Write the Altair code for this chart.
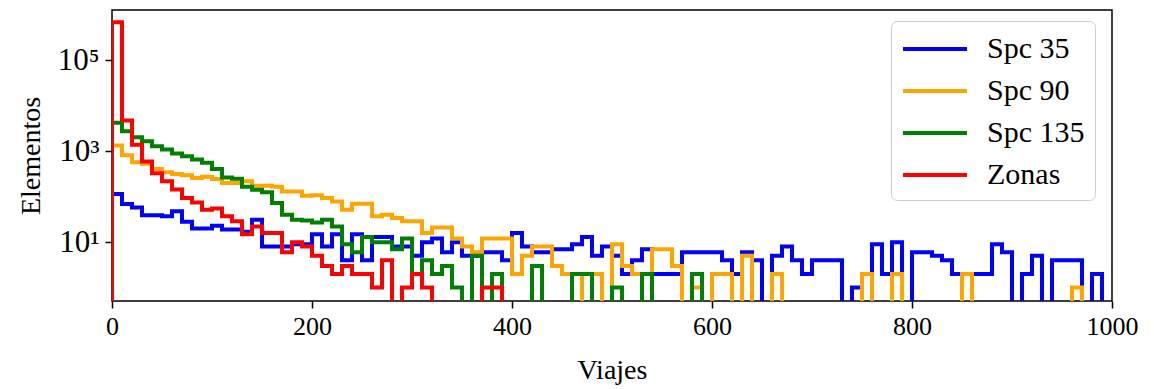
import altair as alt
import numpy as np
import pandas as pd

SERIES = ["Spc 35", "Spc 90", "Spc 135", "Zonas"]
COLORS = ["#0000ff", "#ffa500", "#008000", "#ff0000"]
BIN_START = 0.0
BIN_END = 1000.0
N_BINS = 100

spc35 = [115, 69, 58, 39, 39, 37, 48, 28, 20, 20,
         23, 19, 19, 17, 31, 8, 8, 8, 9, 9,
         15, 8, 15, 4, 15, 4, 13, 13, 8, 8,
         5, 10, 12, 6, 10, 5, 5, 6, 6, 4,
         16, 8, 6, 6, 7, 7, 9, 13, 5, 8,
         5, 2, 4, 7, 2, 2, 2, 6, 6, 6,
         6, 4, 2, 6, 4, 0, 5, 8, 4, 2,
         4, 4, 4, 0, 1, 2, 9, 2, 10, 0,
         6, 6, 5, 4, 2, 2, 2, 2, 9, 6,
         0, 2, 5, 0, 4, 4, 4, 0, 2, 0]

spc90 = [1340, 815, 575, 530, 410, 345, 317, 297, 260, 274,
         245, 200, 200, 218, 175, 175, 165, 131, 131, 105,
         108, 94, 79, 52, 70, 70, 37, 40, 34, 29,
         29, 16, 21, 21, 12, 8, 6, 12, 12, 12,
         2, 5, 8, 8, 3, 2, 2, 0, 2, 0,
         9, 3, 2, 2, 7, 7, 3, 0, 1, 0,
         2, 2, 0, 5, 0, 0, 2, 0, 0, 0,
         0, 0, 0, 0, 0, 2, 0, 0, 2, 0,
         0, 0, 0, 0, 0, 2, 0, 0, 0, 0,
         0, 0, 0, 0, 0, 0, 1, 0, 0, 0]

spc135 = [4240, 2760, 2040, 1660, 1290, 1090, 890, 780, 660, 560,
          410, 265, 250, 165, 143, 125, 73, 40, 31, 30,
          27, 31, 22, 9, 6, 13, 10, 10, 7, 12,
          2, 4, 2, 3, 1, 0, 5, 0, 2, 0,
          0, 0, 3, 0, 0, 0, 2, 2, 0, 0,
          1, 0, 0, 2, 0, 0, 0, 0, 2, 0,
          0, 0, 0, 0, 0, 0, 0, 0, 0, 0,
          0, 0, 0, 0, 0, 0, 0, 0, 0, 0,
          0, 0, 0, 0, 0, 0, 0, 0, 0, 0,
          0, 0, 0, 0, 0, 0, 0, 0, 0, 0]

zonas = [690000, 4750, 1400, 600, 330, 218, 144, 94, 75, 52,
         55, 37, 29, 15, 22, 16, 16, 6, 10, 8,
         5, 3, 2, 3, 2, 2, 1, 4, 0, 1,
         2, 1, 0, 0, 0, 0, 0, 1, 1, 0,
         0, 0, 0, 0, 0, 0, 0, 0, 0, 0,
         0, 0, 0, 0, 0, 0, 0, 0, 0, 0,
         0, 0, 0, 0, 0, 0, 0, 0, 0, 0,
         0, 0, 0, 0, 0, 0, 0, 0, 0, 0,
         0, 0, 0, 0, 0, 0, 0, 0, 0, 0,
         0, 0, 0, 0, 0, 0, 0, 0, 0, 0]

X_TICKS = [0, 200, 400, 600, 800, 1000]
Y_TICKS = [10, 1000, 100000]
Y_DOMAIN = [0.507, 1.29e6]
FLOOR = 1e-3

edges = np.linspace(BIN_START, BIN_END, N_BINS + 1)
rows = []
for name, counts in zip(SERIES, [spc35, spc90, spc135, zonas]):
    pts = [(edges[0], FLOOR)]
    for k, c in enumerate(counts):
        v = c if c > 0 else FLOOR
        pts.append((edges[k], v))
        pts.append((edges[k + 1], v))
    pts.append((edges[-1], FLOOR))
    for j, (x, y) in enumerate(pts):
        rows.append({"series": name, "x": float(x), "y": float(y), "order": j})
df = pd.DataFrame(rows)

FONT = "Liberation Serif"
FS = 26
TFS = 28
LFS = 30

chart = alt.Chart(df).mark_line(
    clip=True, strokeWidth=4, strokeJoin="miter", strokeCap="butt"
).encode(
    x=alt.X("x:Q",
            scale=alt.Scale(domain=[0, 1000], nice=False, zero=False),
            axis=alt.Axis(title="Viajes", values=X_TICKS, format="d",
                          labelFont=FONT, labelFontSize=FS, titleFont=FONT,
                          titleFontSize=TFS, titleFontWeight="normal",
                          tickSize=7, tickWidth=1.5, tickColor="black",
                          labelColor="black", titleColor="black",
                          labelPadding=5, titlePadding=17, grid=False,
                          domain=False, labelFlush=False)),
    y=alt.Y("y:Q",
            scale=alt.Scale(type="log", domain=Y_DOMAIN, nice=False),
            axis=alt.Axis(title="Elementos", values=Y_TICKS,
                          labelExpr="datum.value == 10 ? '10¹' : datum.value == 1000 ? '10³' : '10⁵'",
                          labelFont=FONT, labelFontSize=31, titleFont=FONT,
                          titleFontSize=TFS, titleFontWeight="normal",
                          tickSize=7, tickWidth=1.5, tickColor="black",
                          labelColor="black", titleColor="black",
                          labelPadding=6, titlePadding=12, grid=False,
                          domain=False, labelFlush=False)),
    color=alt.Color("series:N",
                    scale=alt.Scale(domain=SERIES, range=COLORS),
                    sort=SERIES,
                    legend=alt.Legend(title=None, orient="none",
                                      legendX=779, legendY=11,
                                      symbolType="M-1,0H3", symbolSize=1024,
                                      symbolStrokeWidth=4,
                                      labelFont=FONT, labelFontSize=LFS,
                                      labelColor="black",
                                      labelOffset=50, rowPadding=9,
                                      padding=10, fillColor="white",
                                      strokeColor="#cccccc",
                                      cornerRadius=6)),
    order=alt.Order("order:Q"),
).properties(
    width=1000, height=291,
    background="white",
    autosize=alt.AutoSizeParams(type="none"),
    padding={"left": 112, "top": 10, "right": 42, "bottom": 88},
).configure_view(
    stroke="black", strokeWidth=1.5
)

chart.save("out.html", embed_options={"renderer": "svg", "actions": False})
